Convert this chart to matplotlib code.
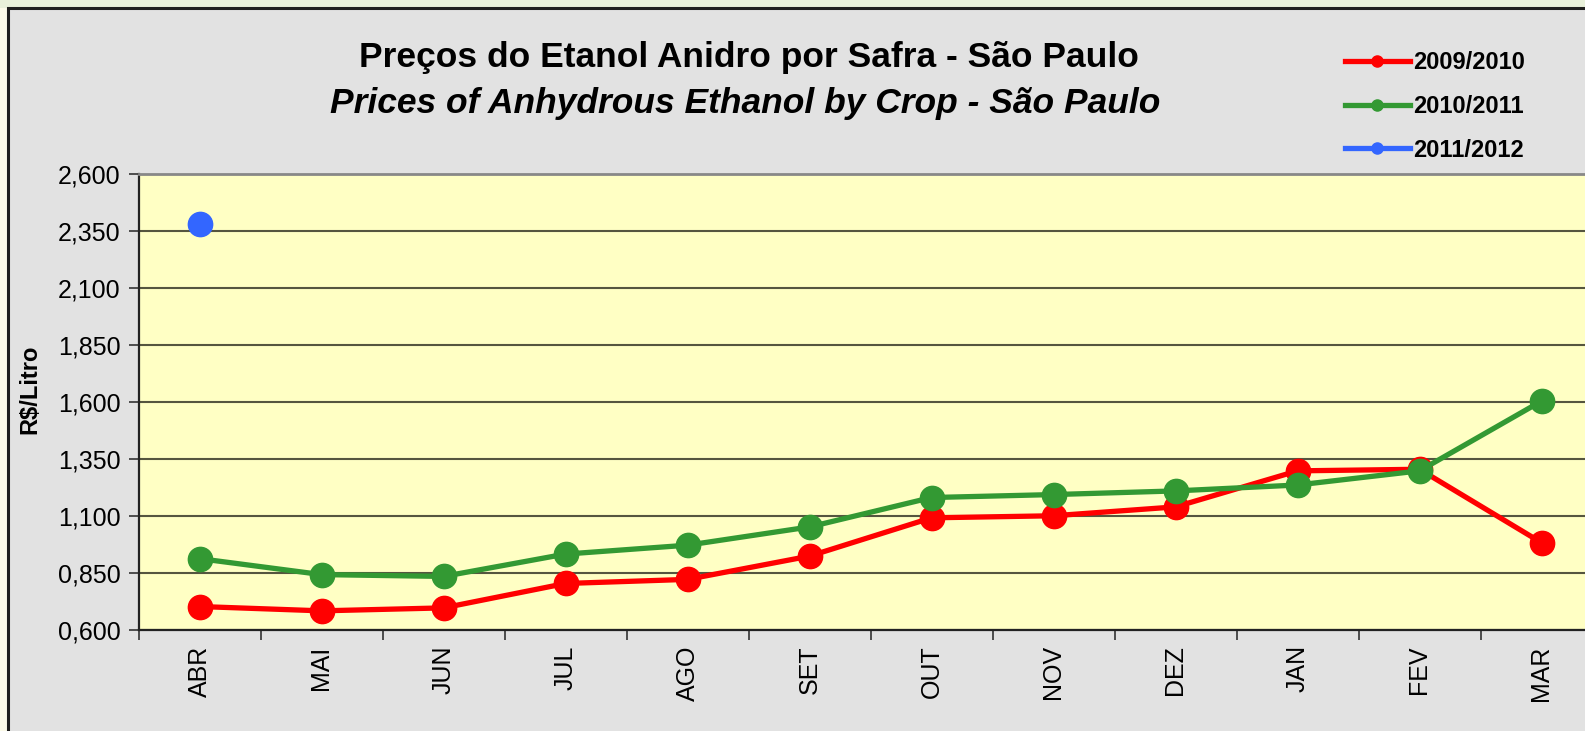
import matplotlib
matplotlib.use("Agg")
import matplotlib.pyplot as plt
from matplotlib.patches import Rectangle
from matplotlib.lines import Line2D
import numpy as np

plt.rcParams['font.family'] = ['Liberation Sans', 'DejaVu Sans']

months = ["ABR", "MAI", "JUN", "JUL", "AGO", "SET", "OUT", "NOV", "DEZ", "JAN", "FEV", "MAR"]
s2009 = [0.703, 0.684, 0.697, 0.804, 0.822, 0.924, 1.092, 1.101, 1.140, 1.298, 1.305, 0.983]
s2010 = [0.913, 0.843, 0.835, 0.933, 0.972, 1.052, 1.181, 1.194, 1.210, 1.236, 1.298, 1.604]
s2011 = [2.381]
series_labels = ["2009/2010", "2010/2011", "2011/2012"]
yticks = [0.600, 0.850, 1.100, 1.350, 1.600, 1.850, 2.100, 2.350, 2.600]
ytick_labels = ["0,600", "0,850", "1,100", "1,350", "1,600", "1,850", "2,100", "2,350", "2,600"]

W, H = 1585, 731
fig = plt.figure(figsize=(W / 100, H / 100), dpi=100)
fig.patch.set_facecolor('#FBFAE9')

# slide top strip
fig.patches.append(Rectangle((0, 1 - 8 / H), 1, 8 / H, transform=fig.transFigure,
                             facecolor='#E8F0DA', edgecolor='none', zorder=-2))
# chart area
fig.patches.append(Rectangle((8 / W, -0.05), 1.1, 1 - 8 / H + 0.05, transform=fig.transFigure,
                             facecolor='#E2E2E2', edgecolor='#1E1E1E', linewidth=2.2, zorder=-1))

left, right = 138.5, 1602.5
top, bottom = 174, 630
ax = fig.add_axes([left / W, 1 - bottom / H, (right - left) / W, (bottom - top) / H])
ax.set_zorder(5)
ax.set_facecolor('#FFFFC4')

x = np.arange(len(months))
red, green, blue = '#FF0000', '#339933', '#3366FF'
ax.plot(x, s2009, color=red, lw=3.8, marker='o', ms=17.5, zorder=3)
ax.plot(x, s2010, color=green, lw=3.8, marker='o', ms=17.5, zorder=4)
ax.plot(x[:len(s2011)], s2011, color=blue, lw=3.8, marker='o', ms=17.5, zorder=5)

ax.set_xlim(-0.5, len(months) - 0.5)
ax.set_ylim(0.6, 2.6)
ax.set_yticks(yticks)
ax.set_yticklabels(ytick_labels)
ax.yaxis.grid(True, color='#55553F', lw=1.5)
ax.set_axisbelow(True)

ax.set_xticks(x)
ax.set_xticklabels(months, rotation=90)
ax.set_xticks(np.arange(len(months) + 1) - 0.5, minor=True)
ax.tick_params(axis='x', which='major', length=0, pad=11, labelsize=18)
ax.tick_params(axis='x', which='minor', length=7, width=1.2, color='#333333', direction='out')
ax.tick_params(axis='y', length=7, width=1.2, color='#333333', pad=6, labelsize=18)

for s in ['left', 'bottom']:
    ax.spines[s].set_color('#222222')
    ax.spines[s].set_linewidth(1.6)
ax.spines['top'].set_color('#888888')
ax.spines['top'].set_linewidth(2.0)
ax.spines['right'].set_visible(False)

fig.text(30 / W, 1 - 389 / H, "R$/Litro", rotation=90, ha='center', va='center',
         fontsize=17, fontweight='bold')

fig.text(749 / W, 1 - 57 / H, "Preços do Etanol Anidro por Safra - São Paulo",
         ha='center', va='center', fontsize=25.5, fontweight='bold')
fig.text(745 / W, 1 - 103 / H, "Prices of Anhydrous Ethanol by Crop - São Paulo",
         ha='center', va='center', fontsize=25.5, fontweight='bold', style='italic')

handles = [Line2D([], [], color=c, lw=3.8, marker='o', ms=8) for c in (red, green, blue)]
leg = fig.legend(handles, series_labels, loc='upper left',
                 bbox_to_anchor=(1345 / W, 1 - 51 / H), frameon=False, borderaxespad=0,
                 borderpad=0, prop={'size': 17, 'weight': 'bold'}, handlelength=2.75,
                 handletextpad=0.15, labelspacing=0.88)

fig.savefig("out.png", dpi=100, facecolor=fig.get_facecolor())
